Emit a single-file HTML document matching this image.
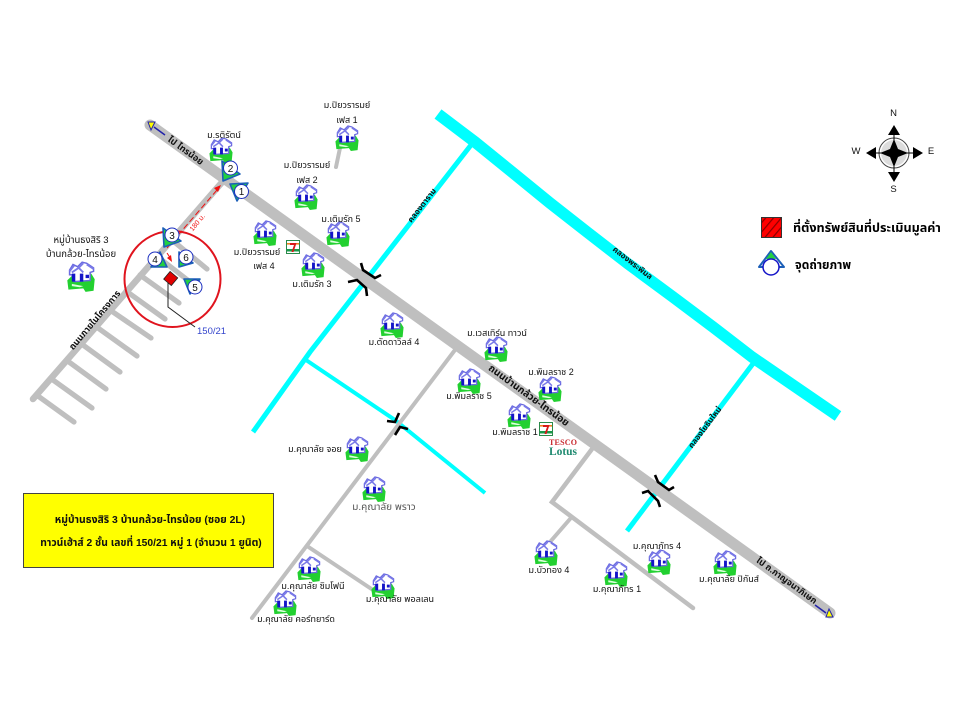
<!DOCTYPE html>
<html><head><meta charset="utf-8"><style>
html,body{margin:0;padding:0;background:#fff}
svg{display:block}
text{font-family:"Liberation Sans","Noto Sans Thai","Noto Sans CJK SC",sans-serif;fill:#111}
.l{font-size:9px;text-anchor:middle}
.b{font-weight:bold}
</style></head><body>
<svg width="960" height="720" viewBox="0 0 960 720" xmlns="http://www.w3.org/2000/svg">
<defs>
<symbol id="h" viewBox="0 0 26 28" overflow="visible">
<path d="M1 17 L5 13 L22 11 L25 16 L24 26 L17 27 L15 24 L2 25Z" fill="#22d030"/>
<path d="M5 20 L15 22 L12 23 L5 22Z" fill="#dfd"/>
<path d="M3 12 L3 8 L6 3 L10 5 L14 1 L18 2 L24 6 L24 9 L21 10 L21 17 L7 18 L5 12Z" fill="#fff" stroke="#6a6ae0" stroke-width="1.3"/>
<path d="M5 11h3v7h-3zM12 11h3v7h-3zM17 12h3v3h-3z" fill="#1414c8"/>
<path d="M3 9 L7 4M11 6 L15 2M18 3 L24 7M5 10 L11 6 L15 10" stroke="#7a7ae8" stroke-width="1.6" fill="none"/>
</symbol>
<symbol id="s" viewBox="0 0 14 14">
<rect x=".5" y=".5" width="13" height="13" fill="#fff" stroke="#2a8a4a"/>
<rect x="1" y="3" width="12" height="1.6" fill="#f08020"/>
<rect x="1" y="9" width="12" height="2.5" fill="#1a9a4a"/>
<path d="M4 3 H10.5 L7.5 12 H5.5 L8 5 H4Z" fill="#d81818"/>
</symbol>
<pattern id="hat" width="6" height="6" patternUnits="userSpaceOnUse" patternTransform="rotate(40)">
<rect width="6" height="6" fill="#f00"/><rect width="1.2" height="6" fill="#800"/>
</pattern>
</defs>

<!-- canals -->
<path d="M438 114 L475 142 L512 172 L550 203 L587 232 L627 263 L673 297 L713 327 L752 357 L838 416" fill="none" stroke="#00ffff" stroke-width="11.5" stroke-linejoin="round"/>
<g fill="none" stroke="#00ffff" stroke-linecap="butt">
<path d="M471 145 L310 352 L253 432" stroke-width="5"/>
<path d="M306 360 L395 420 L485 493" stroke-width="4"/>
<path d="M755 361 L627 531" stroke-width="5"/>
</g>

<!-- roads -->
<g fill="none" stroke="#bfbfbf" stroke-linecap="round" stroke-linejoin="miter">
<path d="M150 125 L830 613" stroke-width="11"/>
<path d="M224 180 L33 399" stroke-width="6.5"/>
<g stroke-width="5.2">
<path d="M172 240 L207 269M158 257 L194 285M140 275 L179 303M126 291 L165 319M110 310 L151 338M98 328 L137 356M83 345 L120 372M69 362 L106 389M53 380 L92 408M38 396 L74 422"/>
</g>
<path d="M458 346 L252 618" stroke-width="4"/>
<path d="M307 546 L373 590" stroke-width="4"/>
<path d="M592 449 L552 502 L693 608" stroke-width="4.5"/>
<path d="M570 519 L550 542" stroke-width="4"/>
<path d="M340 148 L336 167" stroke-width="4"/>
</g>

<!-- bridges -->
<g fill="none" stroke="#000" stroke-width="2.6">
<path d="M361 263 L363 270 L375 278 L381 275"/>
<path d="M348 282 L357 280 L366 288 L367 296"/>
<path d="M655 475 L658 482 L669 490 L674 487"/>
<path d="M642 493 L648 491 L658 501 L660 507"/>
<path d="M387 421 L395 422 L399 413"/>
<path d="M408 429 L400 427 L395 435"/>
</g>

<!-- road end arrows -->
<path d="M165 135 L154 127" stroke="#2222aa" stroke-width="1.5"/>
<path d="M148 122 L155 122 L151 130Z" fill="#ff0" stroke="#2222aa" stroke-width="1"/>
<path d="M815 605 L826 613" stroke="#2222aa" stroke-width="1.5"/>
<path d="M833 617 L826 617 L829 609Z" fill="#ff0" stroke="#2222aa" stroke-width="1"/>

<!-- houses -->
<use href="#h" x="208" y="137" width="26" height="27"/>
<use href="#h" x="334" y="125" width="26" height="27"/>
<use href="#h" x="293" y="184" width="26" height="27"/>
<use href="#h" x="325" y="221" width="26" height="27"/>
<use href="#h" x="252" y="220" width="26" height="27"/>
<use href="#h" x="300" y="252" width="26" height="27"/>
<use href="#h" x="64" y="261" width="34" height="32"/>
<use href="#h" x="379" y="312" width="26" height="27"/>
<use href="#h" x="483" y="336" width="26" height="27"/>
<use href="#h" x="537" y="376" width="26" height="27"/>
<use href="#h" x="456" y="368" width="26" height="27"/>
<use href="#h" x="506" y="403" width="26" height="27"/>
<use href="#h" x="344" y="436" width="26" height="27"/>
<use href="#h" x="361" y="476" width="26" height="27"/>
<use href="#h" x="296" y="556" width="26" height="27"/>
<use href="#h" x="370" y="573" width="26" height="27"/>
<use href="#h" x="272" y="590" width="26" height="27"/>
<use href="#h" x="533" y="540" width="26" height="27"/>
<use href="#h" x="603" y="561" width="26" height="27"/>
<use href="#h" x="646" y="549" width="26" height="27"/>
<use href="#h" x="712" y="550" width="26" height="27"/>

<use href="#s" x="286" y="240" width="14" height="14"/>
<use href="#s" x="539" y="422" width="14" height="14"/>
<text x="549" y="445" font-size="8" font-weight="bold" style="font-family:'Liberation Serif',serif;fill:#c8282e" textLength="28">TESCO</text>
<text x="549" y="455" font-size="11.5" font-weight="bold" style="font-family:'Liberation Serif',serif;fill:#1f8a70" textLength="28">Lotus</text>

<!-- house labels -->
<g class="l">
<text class="l" x="224" y="138">ม.รติรัตน์</text>
<text class="l" x="347" y="108">ม.ปิยวรารมย์</text>
<text class="l" x="347" y="123">เฟส 1</text>
<text class="l" x="307" y="168">ม.ปิยวรารมย์</text>
<text class="l" x="307" y="183">เฟส 2</text>
<text class="l" x="341" y="222">ม.เติมรัก 5</text>
<text class="l" x="257" y="255">ม.ปิยวรารมย์</text>
<text class="l" x="264" y="269">เฟส 4</text>
<text class="l" x="312" y="287">ม.เติมรัก 3</text>
<text class="l" x="394" y="345">ม.ตัดดาวิลล์ 4</text>
<text class="l" x="497" y="336">ม.เวสเทิร์น ทาวน์</text>
<text class="l" x="551" y="375">ม.พิมลราช 2</text>
<text class="l" x="469" y="399">ม.พิมลราช 5</text>
<text class="l" x="515" y="435">ม.พิมลราช 1</text>
<text class="l" x="315" y="452">ม.คุณาลัย จอย</text>
<text class="l" x="384" y="510" style="font-size:10px;fill:#555">ม.คุณาลัย พราว</text>
<text class="l" x="313" y="589">ม.คุณาลัย ซิมโฟนี</text>
<text class="l" x="400" y="602">ม.คุณาลัย พอลเลน</text>
<text class="l" x="296" y="622">ม.คุณาลัย คอร์ทยาร์ด</text>
<text class="l" x="549" y="573">ม.บัวทอง 4</text>
<text class="l" x="617" y="592">ม.คุณาภัทร 1</text>
<text class="l" x="657" y="549">ม.คุณาภัทร 4</text>
<text class="l" x="729" y="582">ม.คุณาลัย ปิกันส์</text>
<text class="l" x="81" y="243" style="font-size:9.5px">หมู่บ้านธงสิริ 3</text>
<text class="l" x="81" y="257" style="font-size:9.5px">บ้านกล้วย-ไทรน้อย</text>
</g>

<!-- rotated labels -->
<text class="l b" transform="translate(184,153) rotate(36)">ไป ไทรน้อย</text>
<text class="l b" transform="translate(527,398) rotate(36)" style="font-size:10px">ถนนบ้านกล้วย-ไทรน้อย</text>
<text class="l b" transform="translate(785,583) rotate(36)">ไป ถ.กาญจนาภิเษก</text>
<text class="l b" transform="translate(97,322) rotate(-50)">ถนนภายในโครงการ</text>
<text class="l b" transform="translate(424,207) rotate(-52)" style="font-size:8px">คลองตาราม</text>
<text class="l b" transform="translate(631,265) rotate(38)" style="font-size:8px">คลองพระพิมล</text>
<text class="l b" transform="translate(707,429) rotate(-53)" style="font-size:8px">คลองโยธินใหม่</text>

<!-- red circle and subject -->
<circle cx="172.5" cy="279" r="48" fill="none" stroke="#e0141e" stroke-width="2"/>
<path d="M217 190 L167 248" stroke="#f01010" stroke-width="1" stroke-dasharray="6 3" fill="none"/>
<path d="M221 185 L214 188 L218 192Z" fill="#f01010"/>
<path d="M167 253 L171 259" stroke="#f01010" stroke-width="1" fill="none"/>
<path d="M172 262 L167 258 L171 255Z" fill="#f01010"/>
<text transform="translate(199,224) rotate(-50)" font-size="7" style="fill:#f01010" text-anchor="middle">180 ม.</text>
<rect x="-5" y="-5" width="10" height="10" transform="translate(170.7,278.5) rotate(40)" fill="#e00000" stroke="#222" stroke-width=".8"/>
<path d="M168 283 V307 L195 327" fill="none" stroke="#222" stroke-width="1"/>
<text x="197" y="334" font-size="9.5" style="fill:#3344cc">150/21</text>

<!-- camera markers -->
<g stroke="#1c5fb8" stroke-width="1.6" stroke-linejoin="round">
<path d="M230 184 L248 183 L237 201Z" fill="#22d040"/>
<path d="M222 161 L223 181 L240 174Z" fill="#22d040"/>
<path d="M163 228 L164 247 L181 241Z" fill="#22d040"/>
<path d="M160 252 L151 267 L167 267Z" fill="#22d040"/>
<path d="M184 279 L200 279 L190 294Z" fill="#22d040"/>
<path d="M179 252 L179 267 L193 263Z" fill="#22d040"/>
</g>
<g fill="#fff" stroke="#1c2fc0" stroke-width="1">
<circle cx="241.5" cy="191.5" r="7"/><circle cx="230.5" cy="168" r="7"/><circle cx="172" cy="235" r="7"/>
<circle cx="155" cy="259" r="7"/><circle cx="195" cy="287" r="7"/><circle cx="186" cy="257" r="7"/>
</g>
<g font-size="10" text-anchor="middle">
<text x="241.5" y="195">1</text><text x="230.5" y="172">2</text><text x="172" y="239">3</text>
<text x="155" y="263">4</text><text x="195" y="291">5</text><text x="186" y="261">6</text>
</g>

<!-- compass -->
<circle cx="894" cy="153" r="15" fill="#fff" stroke="#444" stroke-width="1"/>
<circle cx="894" cy="153" r="13" fill="#dcdcdc"/>
<path d="M894 139 L898 149 L908 153 L898 157 L894 167 L890 157 L880 153 L890 149Z" fill="#000"/>
<path d="M894 125 L900 135 L888 135Z M894 182 L888 172 L900 172Z M866 153 L876 147 L876 159Z M923 153 L913 147 L913 159Z" fill="#000"/>
<path d="M894 135 V172 M876 153 H913" stroke="#000" stroke-width="1"/>
<g font-size="9.5" text-anchor="middle"><text x="893.5" y="116">N</text><text x="893.5" y="192">S</text><text x="856" y="154">W</text><text x="931" y="154">E</text></g>

<!-- legend -->
<rect x="761.5" y="217.5" width="20" height="20" fill="url(#hat)" stroke="#333"/>
<text x="793" y="232" font-size="12.6" font-weight="bold" style="fill:#000">ที่ตั้งทรัพย์สินที่ประเมินมูลค่า</text>
<path d="M771 251 L784 267 L759 267Z" fill="#fff" stroke="#1c5fb8" stroke-width="2" stroke-linejoin="round"/>
<path d="M771 252 L776 259 L766 259Z" fill="#22d040"/>
<circle cx="771" cy="267" r="8" fill="#fff" stroke="#1414c8" stroke-width="1.5"/>
<text x="795" y="269" font-size="12" font-weight="bold" style="fill:#000">จุดถ่ายภาพ</text>

<!-- title box -->
<rect x="23.5" y="493.5" width="250" height="74" fill="#ff0" stroke="#444" stroke-width="1"/>
<text x="150" y="523" font-size="10.4" font-weight="bold" text-anchor="middle">หมู่บ้านธงสิริ 3 บ้านกล้วย-ไทรน้อย  (ซอย 2L)</text>
<text x="151" y="546" font-size="10.3" font-weight="bold" text-anchor="middle">ทาวน์เฮ้าส์ 2 ชั้น เลขที่ 150/21 หมู่ 1 (จำนวน 1 ยูนิต)</text>
</svg>
</body></html>
